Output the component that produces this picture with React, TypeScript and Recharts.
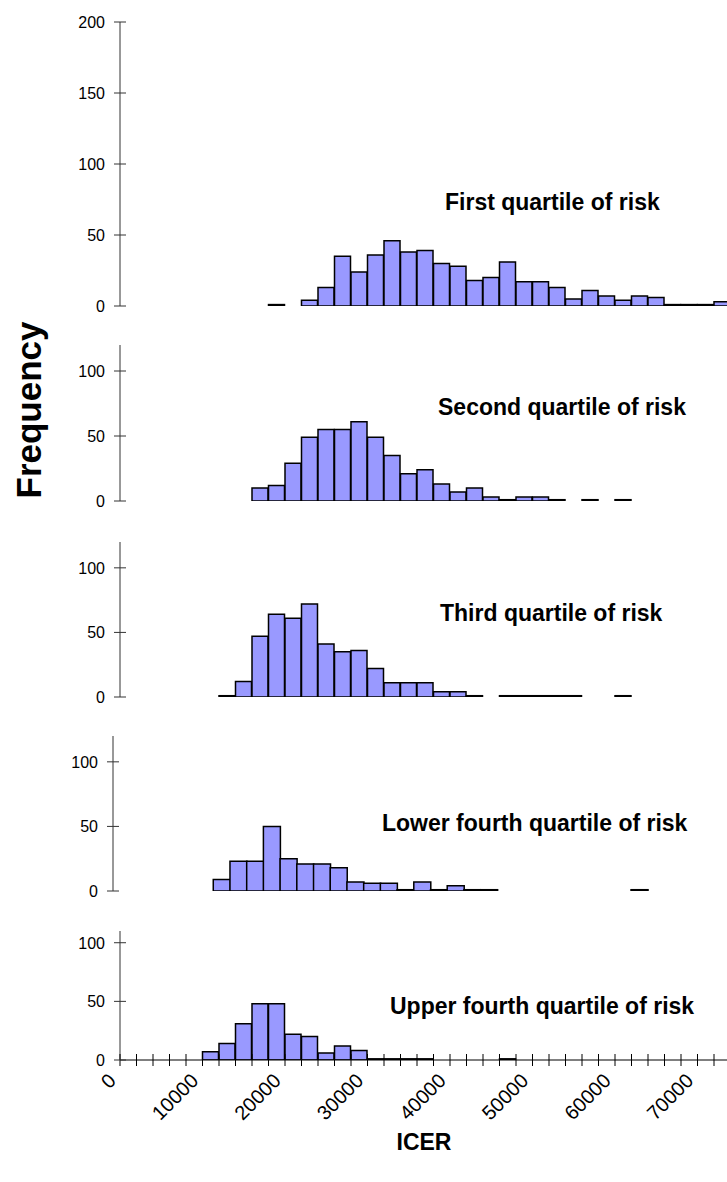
import { BarChart, Bar, XAxis, YAxis } from "recharts";

// ICER bins, 2000 wide (lower bound of each bin)
const binStart = [
  0, 2000, 4000, 6000, 8000, 10000, 12000, 14000, 16000, 18000,
  20000, 22000, 24000, 26000, 28000, 30000, 32000, 34000, 36000, 38000,
  40000, 42000, 44000, 46000, 48000, 50000, 52000, 54000, 56000, 58000,
  60000, 62000, 64000, 66000, 68000, 70000, 72000, 74000,
];
const binWidth = 2000;
const xMax = 76000;

// frequency per bin, one list per risk group
const firstQuartile = [
  0, 0, 0, 0, 0, 0, 0, 0, 0, 1,
  0, 4, 13, 35, 24, 36, 46, 38, 39, 30,
  28, 18, 20, 31, 17, 17, 13, 5, 11, 7,
  4, 7, 6, 1, 1, 1, 3, 0,
];
const secondQuartile = [
  0, 0, 0, 0, 0, 0, 0, 0, 10, 12,
  29, 49, 55, 55, 61, 49, 35, 21, 24, 13,
  7, 10, 3, 1, 3, 3, 1, 0, 1, 0,
  1, 0, 0, 0, 0, 0, 0, 0,
];
const thirdQuartile = [
  0, 0, 0, 0, 0, 0, 1, 12, 47, 64,
  61, 72, 41, 35, 36, 22, 11, 11, 11, 4,
  4, 1, 0, 1, 1, 1, 1, 1, 0, 0,
  1, 0, 0, 0, 0, 0, 0, 0,
];
const lowerFourth = [
  0, 0, 0, 0, 0, 0, 9, 23, 23, 50,
  25, 21, 21, 18, 7, 6, 6, 1, 7, 1,
  4, 1, 1, 0, 0, 0, 0, 0, 0, 0,
  0, 1, 0, 0, 0, 0, 0, 0,
];
const upperFourth = [
  0, 0, 0, 0, 0, 7, 14, 31, 48, 48,
  22, 20, 6, 12, 8, 1, 1, 1, 1, 0,
  0, 0, 0, 1, 0, 0, 0, 0, 0, 0,
  0, 0, 0, 0, 0, 0, 0, 0,
];

const xTicks = [...binStart, xMax];
const xLabels = [0, 10000, 20000, 30000, 40000, 50000, 60000, 70000];
const yTicksTall = [0, 50, 100, 150, 200];
const yTicksShort = [0, 50, 100];

const rows = binStart.map((b, i) => ({
  mid: b + binWidth / 2,
  first: firstQuartile[i],
  second: secondQuartile[i],
  third: thirdQuartile[i],
  lower: lowerFourth[i],
  upper: upperFourth[i],
}));

const FONT = "'Liberation Sans', Arial, Helvetica, sans-serif";

function YTick({ x, y, payload }: any) {
  return (
    <g>
      <line x1={x - 6} x2={x + 6} y1={y} y2={y} stroke="#333" />
      <text
        x={x - 15}
        y={y}
        dy={6}
        textAnchor="end"
        fontSize={16}
        fontFamily={FONT}
        fill="#000"
      >
        {payload.value}
      </text>
    </g>
  );
}

function XTick({ x, y, payload }: any) {
  const show = xLabels.includes(payload.value);
  return (
    <g>
      <line x1={x} x2={x} y1={y - 6} y2={y + 6} stroke="#000" />
      {show && (
        <text
          transform={`translate(${x - 3},${y + 22}) rotate(-45)`}
          textAnchor="end"
          fontSize={20}
          fontFamily={FONT}
          fill="#000"
        >
          {payload.value}
        </text>
      )}
    </g>
  );
}

const panels = [
  { key: "first", title: "First quartile of risk", top: 22, plot: 284, left: 120, width: 747, max: 200, ticks: yTicksTall, tx: 445, ty: 210 },
  { key: "second", title: "Second quartile of risk", top: 345, plot: 156, left: 120, width: 747, max: 120, ticks: yTicksShort, tx: 438, ty: 415 },
  { key: "third", title: "Third quartile of risk", top: 542, plot: 155, left: 120, width: 747, max: 120, ticks: yTicksShort, tx: 440, ty: 621 },
  { key: "lower", title: "Lower fourth quartile of risk", top: 736, plot: 155, left: 113, width: 748, max: 120, ticks: yTicksShort, tx: 382, ty: 831 },
  { key: "upper", title: "Upper fourth quartile of risk", top: 931, plot: 129, left: 120, width: 747, max: 110, ticks: yTicksShort, tx: 390, ty: 1014 },
];

export default function App() {
  const pad = 12;
  const axisH = 70;
  return (
    <div
      style={{
        position: "relative",
        width: 727,
        height: 1182,
        overflow: "hidden",
        background: "#fff",
        fontFamily: FONT,
      }}
    >
      <style>{`body{margin:0}`}</style>
      {panels.map((p, i) => {
        const last = i === panels.length - 1;
        return (
          <div key={p.key} style={{ position: "absolute", left: 0, top: p.top - pad }}>
            <BarChart
              width={p.width}
              height={p.plot + pad + (last ? axisH : pad)}
              data={rows}
              margin={{ top: pad, right: 0, bottom: last ? 0 : pad, left: 0 }}
              barCategoryGap={0}
              barGap={0}
            >
              <XAxis
                type="number"
                dataKey="mid"
                domain={[0, xMax]}
                ticks={xTicks}
                interval={0}
                hide={!last}
                height={last ? axisH : 0}
                tickSize={0}
                tickMargin={0}
                tickLine={false}
                axisLine={{ stroke: "#000" }}
                tick={<XTick />}
                allowDataOverflow
              />
              <YAxis
                type="number"
                domain={[0, p.max]}
                ticks={p.ticks}
                interval={0}
                width={p.left}
                tickSize={0}
                tickMargin={0}
                tickLine={false}
                axisLine={{ stroke: "#333" }}
                tick={<YTick />}
                allowDataOverflow
              />
              <Bar
                dataKey={p.key}
                fill="#9999FF"
                stroke="#000"
                strokeWidth={1.5}
                isAnimationActive={false}
              />
            </BarChart>
          </div>
        );
      })}
      <svg
        width={727}
        height={1182}
        style={{ position: "absolute", left: 0, top: 0, pointerEvents: "none" }}
      >
        {panels.map((p) => (
          <text
            key={p.key}
            x={p.tx}
            y={p.ty}
            fontSize={23}
            fontWeight="bold"
            fontFamily={FONT}
            fill="#000"
          >
            {p.title}
          </text>
        ))}
        <text
          transform="translate(41,410) rotate(-90)"
          textAnchor="middle"
          fontSize={35}
          fontWeight="bold"
          fontFamily={FONT}
          fill="#000"
        >
          Frequency
        </text>
        <text
          x={424}
          y={1150}
          textAnchor="middle"
          fontSize={23}
          fontWeight="bold"
          fontFamily={FONT}
          fill="#000"
        >
          ICER
        </text>
      </svg>
    </div>
  );
}
